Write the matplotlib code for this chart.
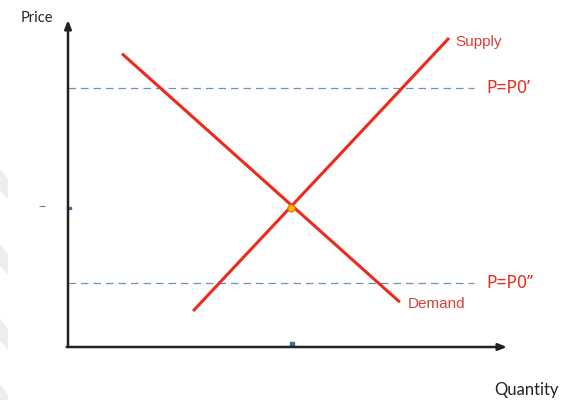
import numpy as np
import matplotlib.pyplot as plt
from matplotlib.patches import Polygon

# Curvas de oferta y demanda (cantidad, precio)
oferta_q = [2.85, 8.68]
oferta_p = [1.10, 9.45]
demanda_q = [1.23, 7.56]
demanda_p = [8.97, 1.37]

# Equilibrio
eq_q = [5.08]
eq_p = [4.25]

# Precios de referencia
precios = [7.92, 1.96]
etiquetas_precio = ["P=P0\u2019", "P=P0\u2019\u2019"]

rojo = "#ee2a1c"

fig = plt.figure(figsize=(5.71, 4.0), dpi=100)
ax = fig.add_axes([0, 0, 1, 1])
ax.set_xlim(-1.549, 11.458)
ax.set_ylim(-1.621, 10.612)
ax.axis("off")

# Franjas grises del borde izquierdo
for y0 in [5.45, 3.15, 0.85, -1.15]:
    franja = Polygon([[-1.549, y0], [-1.37, y0 - 0.3], [-1.37, y0 - 0.95], [-1.549, y0 - 0.65]],
                     closed=True, color="#ededed", lw=0)
    ax.add_patch(franja)

# Ejes con flechas
ax.annotate("", xy=(0, 10.0), xytext=(0, 0),
            arrowprops=dict(arrowstyle="-|>,head_length=0.5,head_width=0.2", color="#222222", lw=1.8,
                            shrinkA=0, shrinkB=0))
ax.annotate("", xy=(10.0, 0), xytext=(-0.03, 0),
            arrowprops=dict(arrowstyle="-|>,head_length=0.5,head_width=0.2", color="#222222", lw=1.8,
                            shrinkA=0, shrinkB=0))

# Líneas de precio discontinuas
for p, et in zip(precios, etiquetas_precio):
    ax.plot([0, 9.25], [p, p], ls=(0, (6, 4)), color="#6a93c0", lw=0.9)
    ax.text(9.52, p, et, color=rojo, fontsize=12.5, va="center", ha="left",
            family="Noto Sans")

ax.plot(oferta_q, oferta_p, color=rojo, lw=2.2, solid_capstyle="butt")
ax.plot(demanda_q, demanda_p, color=rojo, lw=2.2, solid_capstyle="butt")
ax.plot(eq_q, eq_p, "o", color="#f5c400", ms=5, mec="#e87a10", mew=1)

ax.text(8.83, 9.33, "Supply", color="#d9403a", fontsize=11, va="center", ha="left",
        family="Liberation Sans")
ax.text(7.75, 1.3, "Demand", color="#d9403a", fontsize=11, va="center", ha="left",
        family="Liberation Sans")

ax.text(-1.08, 10.05, "Price", fontsize=10.5, va="center", ha="left", color="#222222",
        family="Lato")
ax.text(9.7, -1.33, "Quantity", fontsize=12, va="center", ha="left", color="#222222",
        family="Lato")

# Pequeñas marcas
ax.plot([0.05], [4.26], "s", color="#3b6ea5", ms=1.8)
ax.plot([5.11], [0.1], "s", color="#3b6ea5", ms=2.2)
ax.plot([-0.6], [4.3], "_", color="#777777", ms=4, mew=0.8)

fig.savefig("out.png", dpi=100)
